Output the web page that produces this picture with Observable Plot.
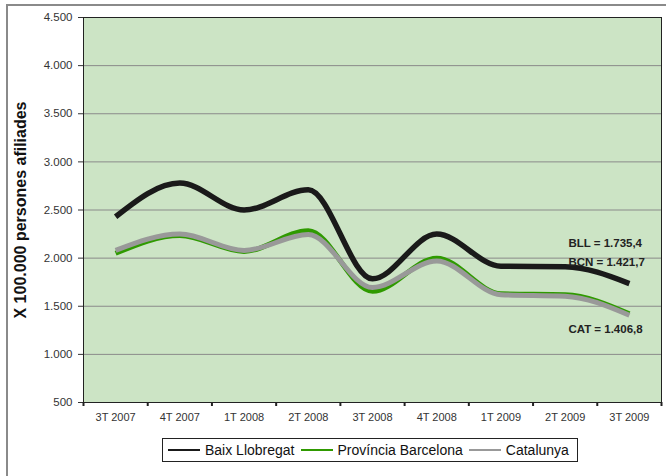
<!DOCTYPE html>
<html>
<head>
<meta charset="utf-8">
<script src="https://cdn.jsdelivr.net/npm/d3@7"></script>
<script src="https://cdn.jsdelivr.net/npm/@observablehq/plot@0.6"></script>
<style>
  html, body { margin: 0; padding: 0; background: #fff; }
  body { width: 666px; height: 476px; position: relative; overflow: hidden; font-family: "Liberation Sans", Arial, sans-serif; }
  #outer { position: absolute; left: 6px; top: 4px; width: 700px; height: 520px; border-top: 2px solid #8a8a8a; border-left: 2px solid #8a8a8a; box-sizing: border-box; }
  #chart { position: absolute; left: 0; top: 0; }
  #legend { position: absolute; left: 162px; top: 438px; height: 24px; border: 1px solid #222; box-sizing: border-box; background: #fff;
            display: flex; align-items: center; padding: 0 8px 0 5px; font-size: 14px; color: #111; }
  #legend .sw { display: inline-block; width: 32px; height: 2px; margin-right: 5px; }
  #legend .it { display: flex; align-items: center; margin-right: 6px; white-space: nowrap; }
  #legend .it:last-child { margin-right: 0; }
</style>
</head>
<body>
<div id="outer"></div>
<div id="chart"></div>
<div id="legend"></div>
<script>
const categories = ["3T 2007", "4T 2007", "1T 2008", "2T 2008", "3T 2008", "4T 2008", "1T 2009", "2T 2009", "3T 2009"];
const baixLlobregat = [2430, 2780, 2500, 2710, 1785, 2250, 1915, 1910, 1735.4];
const provinciaBarcelona = [2050, 2235, 2070, 2285, 1655, 2000, 1630, 1620, 1421.7];
const catalunya = [2080, 2250, 2080, 2245, 1695, 1970, 1620, 1605, 1406.8];
const seriesNames = ["Baix Llobregat", "Província Barcelona", "Catalunya"];
const seriesColors = ["#1a1a1a", "#2f9a00", "#999999"];
const yTicks = [500, 1000, 1500, 2000, 2500, 3000, 3500, 4000, 4500];
const annotations = [
  {label: "BLL = 1.735,4", value: baixLlobregat[8], dy: -40},
  {label: "BCN = 1.421,7", value: provinciaBarcelona[8], dy: -51},
  {label: "CAT = 1.406,8", value: catalunya[8], dy: 14}
];

const seriesValues = [baixLlobregat, provinciaBarcelona, catalunya];
const rows = seriesValues.map((vals, s) => vals.map((v, i) => ({i, v, s: seriesNames[s]})));
const n = categories.length;
const boundaries = d3.range(n + 1).map(i => i - 0.5);
const fmt = d => d3.format(",")(d).replace(/,/g, ".");

const lineOpts = (s, w) => ({x: "i", y: "v", stroke: seriesColors[s], strokeWidth: w, curve: "monotone-x", strokeLinecap: "butt", strokeLinejoin: "round"});

const last = n - 1;
const chart = Plot.plot({
  width: 666,
  height: 476,
  marginLeft: 83,
  marginRight: 5,
  marginTop: 17,
  marginBottom: 74,
  style: {fontFamily: "'Liberation Sans', Arial, sans-serif", background: "transparent", color: "#222"},
  x: {type: "linear", domain: [-0.5, n - 0.5]},
  y: {domain: [500, 4500]},
  marks: [
    Plot.frame({fill: "#cce4c5", stroke: null}),
    Plot.gridY(yTicks, {stroke: "#8a8a8a", strokeOpacity: 1, strokeWidth: 1}),
    Plot.frame({stroke: "#222", strokeWidth: 1}),
    Plot.axisY(yTicks, {tickFormat: fmt, tickSize: 5, tickPadding: 6, fontSize: 11.5, stroke: "#333", label: null, fill: "#333"}),
    Plot.axisX(boundaries, {tickSize: 4, tickFormat: () => "", strokeWidth: 2, stroke: "#222", label: null}),
    Plot.axisX(d3.range(n), {tickSize: 0, tickPadding: 11, tickFormat: i => categories[i], fontSize: 11, fill: "#333", label: null}),
    Plot.text(["X 100.000 persones afiliades"], {frameAnchor: "left", textAnchor: "middle", rotate: -90, dx: -63, dy: 0, fontWeight: "bold", fontSize: 16, fill: "#111"}),
    Plot.line(rows[0], lineOpts(0, 5.5)),
    Plot.line(rows[1], lineOpts(1, 5)),
    Plot.line(rows[2], lineOpts(2, 5)),
    ...annotations.map(a => Plot.text([a], {x: () => last, y: "value", text: "label", dx: -61, dy: a.dy, textAnchor: "start", fontWeight: "bold", fontSize: 11.5, fill: "#222"}))
  ]
});
document.getElementById("chart").appendChild(chart);

const legend = document.getElementById("legend");
seriesNames.forEach((name, s) => {
  const it = document.createElement("span");
  it.className = "it";
  const sw = document.createElement("span");
  sw.className = "sw";
  sw.style.background = seriesColors[s];
  it.appendChild(sw);
  it.appendChild(document.createTextNode(name));
  legend.appendChild(it);
});
</script>
</body>
</html>
